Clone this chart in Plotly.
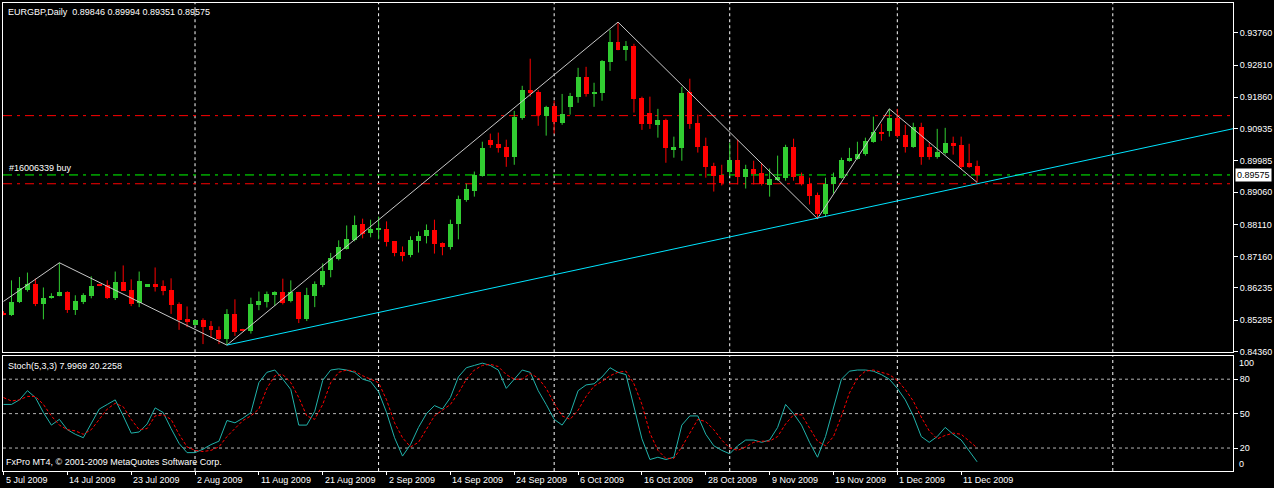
import plotly.graph_objects as go

# ---------------- data ----------------
opens = [0.8550,0.8543,0.8582,0.8619,0.8634,0.8576,0.8593,0.8600,0.8611,0.8558,
         0.8582,0.8600,0.8635,0.8631,0.8594,0.8640,0.8619,0.8579,0.8629,0.8634,
         0.8628,0.8619,0.8575,0.8531,0.8514,0.8528,0.8510,0.8500,0.8473,0.8546,
         0.8502,0.8497,0.8573,0.8581,0.8602,0.8613,0.8584,0.8611,0.8531,0.8599,
         0.8631,0.8678,0.8708,0.8740,0.8764,0.8811,0.8787,0.8797,0.8799,0.8761,
         0.8731,0.8720,0.8761,0.8776,0.8796,0.8755,0.8743,0.8811,0.8884,0.8911,
         0.8955,0.9061,0.9049,0.9040,0.9011,0.9126,0.9208,0.9202,0.9132,0.9161,
         0.9111,0.9158,0.9188,0.9246,0.9196,0.9199,0.9291,0.9350,0.9326,0.9338,
         0.9185,0.9141,0.9105,0.9120,0.9032,0.9037,0.9202,0.9111,0.9043,0.8984,
         0.8958,0.8967,0.9002,0.8952,0.8976,0.8964,0.8926,0.8943,0.8949,0.9040,
         0.8955,0.8929,0.8899,0.8843,0.8929,0.8949,0.8999,0.9005,0.9020,0.9053,
         0.9085,0.9088,0.9126,0.9076,0.9040,0.9099,0.9040,0.9011,0.9023,0.9052,
         0.9046,0.8993,0.89846]
highs = [0.8555,0.8646,0.8656,0.8669,0.8651,0.8625,0.8608,0.8698,0.8614,0.8602,
         0.8608,0.8658,0.8636,0.8646,0.8672,0.8690,0.8649,0.8672,0.8634,0.8684,
         0.8646,0.8652,0.8581,0.8569,0.8528,0.8534,0.8526,0.8510,0.8561,0.8590,
         0.8503,0.8595,0.8613,0.8613,0.8614,0.8651,0.8646,0.8612,0.8624,0.8643,
         0.8696,0.8727,0.8764,0.8808,0.8837,0.8828,0.8825,0.8834,0.8820,0.8762,
         0.8746,0.8776,0.8790,0.8811,0.8825,0.8758,0.8825,0.8896,0.8931,0.8967,
         0.9055,0.9079,0.9082,0.9061,0.9146,0.9220,0.9300,0.9208,0.9161,0.9176,
         0.9196,0.9199,0.9273,0.9276,0.9229,0.9296,0.9385,0.9408,0.9352,0.9344,
         0.9188,0.9188,0.9152,0.9123,0.9070,0.9217,0.9241,0.9135,0.9067,0.8993,
         0.8987,0.9052,0.9061,0.8987,0.8999,0.8993,0.8976,0.9014,0.9046,0.9064,
         0.8964,0.8949,0.8905,0.8949,0.8964,0.9008,0.9037,0.9055,0.9067,0.9129,
         0.9108,0.9152,0.9152,0.9105,0.9111,0.9111,0.9052,0.9093,0.9096,0.9070,
         0.9070,0.9049,0.89994]
lows = [0.8543,0.8541,0.8579,0.8613,0.8570,0.8531,0.8592,0.8599,0.8550,0.8544,
        0.8576,0.8593,0.8629,0.8591,0.8588,0.8615,0.8570,0.8567,0.8629,0.8613,
        0.8602,0.8547,0.8500,0.8508,0.8514,0.8458,0.8476,0.8458,0.8455,0.8482,
        0.8496,0.8489,0.8558,0.8566,0.8571,0.8575,0.8581,0.8520,0.8526,0.8567,
        0.8626,0.8655,0.8705,0.8737,0.8761,0.8770,0.8773,0.8767,0.8746,0.8717,
        0.8702,0.8714,0.8728,0.8755,0.8725,0.8720,0.8737,0.8767,0.8878,0.8893,
        0.8952,0.9037,0.9023,0.8981,0.8987,0.9120,0.9188,0.9102,0.9073,0.9079,
        0.9105,0.9135,0.9170,0.9188,0.9158,0.9176,0.9264,0.9325,0.9294,0.9141,
        0.9090,0.9093,0.9067,0.8993,0.9008,0.8999,0.9093,0.9023,0.8949,0.8908,
        0.8926,0.8955,0.8929,0.8917,0.8929,0.8926,0.8893,0.8940,0.8940,0.8940,
        0.8926,0.8870,0.8828,0.8834,0.8902,0.8946,0.8996,0.9002,0.9014,0.9052,
        0.9058,0.9070,0.9067,0.9023,0.9037,0.8987,0.9002,0.9005,0.9017,0.9017,
        0.8975,0.8978,0.89351]
closes = [0.8544,0.8582,0.8624,0.8634,0.8576,0.8593,0.8599,0.8611,0.8558,0.8584,
          0.8602,0.8628,0.8630,0.8594,0.8640,0.8616,0.8576,0.8643,0.8634,0.8629,
          0.8616,0.8573,0.8529,0.8523,0.8528,0.8508,0.8500,0.8473,0.8546,0.8494,
          0.8497,0.8575,0.8585,0.8605,0.8613,0.8578,0.8611,0.8531,0.8602,0.8634,
          0.8675,0.8711,0.8743,0.8767,0.8808,0.8784,0.8799,0.8799,0.8758,0.8728,
          0.8717,0.8764,0.8778,0.8796,0.8752,0.8743,0.8811,0.8887,0.8917,0.8958,
          0.9037,0.9046,0.9037,0.9011,0.9129,0.9208,0.9199,0.9135,0.9158,0.9114,
          0.9138,0.9191,0.9246,0.9196,0.9202,0.9294,0.9350,0.9326,0.9338,0.9182,
          0.9108,0.9108,0.9120,0.9037,0.9040,0.9199,0.9108,0.9040,0.8981,0.8955,
          0.8934,0.9002,0.8952,0.8976,0.8961,0.8931,0.8946,0.8952,0.9040,0.8952,
          0.8931,0.8896,0.8843,0.8931,0.8952,0.9002,0.9008,0.9020,0.9058,0.9085,
          0.9079,0.9126,0.9073,0.9040,0.9099,0.9011,0.9011,0.9026,0.9052,0.9043,
          0.8981,0.8981,0.89575]

stoch_main = [58,58,62,70,64,51,40,45,36,32,
              29,41,54,58,62,48,33,34,41,55,
              51,37,24,16,16,19,23,26,44,42,
              46,51,77,86,88,80,71,40,40,52,
              79,88,89,88,86,80,78,69,51,29,
              13,23,38,50,57,54,64,82,90,92,
              94,92,88,72,80,88,86,70,58,45,
              40,50,70,75,76,82,90,86,84,55,
              28,10,12,10,12,40,48,48,32,22,
              18,15,22,27,27,25,27,38,58,50,
              40,25,12,30,55,80,87,88,88,87,
              84,80,72,62,48,30,25,30,38,32,
              27,18,8.0]
stoch_signal = [64,61,62,65,65,58,48,40,36,35,
                32,36,45,54,59,56,45,36,37,48,
                49,45,32,21,18,17,18,21,30,37,
                44,48,54,72,83,84,77,64,48,45,
                58,77,86,88,87,83,80,77,62,42,
                29,21,25,37,48,53,58,68,80,88,
                92,93,91,84,80,80,85,81,72,59,
                48,45,53,65,74,78,83,86,87,76,
                58,33,18,11,11,21,33,45,43,36,
                27,20,18,21,25,26,26,30,41,49,
                49,38,26,22,30,48,68,81,87,88,
                86,84,79,71,61,47,35,28,31,33,
                32,26,20.2]

zz_idx = [0, 7, 28, 77, 102, 111, 122]
zz_price = [0.8584, 0.8698, 0.8455, 0.9408, 0.8828, 0.9152, 0.8935]

trend_idx = [28, 122]
trend_price = [0.8455, 0.8931]

order_price = 0.8957
tp_price = 0.9132
sl_price = 0.8931
bid_price = 0.89575

price_ticks = [0.93760, 0.92810, 0.91860, 0.90935, 0.89985, 0.89060,
               0.88110, 0.87160, 0.86235, 0.85285, 0.84360]
date_tick_idx = [0, 8, 16, 24, 32, 40, 48, 56, 64, 72, 80, 88, 96, 104, 112, 120]
date_labels = ["5 Jul 2009", "14 Jul 2009", "23 Jul 2009", "2 Aug 2009", "11 Aug 2009",
               "21 Aug 2009", "2 Sep 2009", "14 Sep 2009", "24 Sep 2009", "6 Oct 2009",
               "16 Oct 2009", "28 Oct 2009", "9 Nov 2009", "19 Nov 2009", "1 Dec 2009",
               "11 Dec 2009"]
grid_idx = [24, 47, 69, 91, 112, 139]

# ---------------- styling ----------------
FONT = "Liberation Sans"
FS = 9
GREEN = "#32CD32"
RED = "#FF0000"
X0 = -0.0625
X1 = X0 + 1233 / 8

n = len(opens)
idx = list(range(n))

fig = go.Figure()

# wicks
for col, up in ((GREEN, True), (RED, False)):
    wx, wy = [], []
    for i in idx:
        if (closes[i] >= opens[i]) == up:
            wx += [i, i, None]
            wy += [lows[i], highs[i], None]
    fig.add_trace(go.Scatter(x=wx, y=wy, mode="lines", line=dict(color=col, width=1),
                             hoverinfo="skip", showlegend=False, xaxis="x", yaxis="y"))

# bodies
base = [min(o, c) for o, c in zip(opens, closes)]
height = [max(abs(c - o), 0.00012) for o, c in zip(opens, closes)]
colors = [GREEN if c >= o else RED for o, c in zip(opens, closes)]
fig.add_trace(go.Bar(x=idx, y=height, base=base, width=0.625,
                     marker=dict(color=colors, line=dict(width=0)),
                     showlegend=False, xaxis="x", yaxis="y"))

# zigzag
fig.add_trace(go.Scatter(x=zz_idx, y=zz_price, mode="lines",
                         line=dict(color="#C8C8C8", width=1),
                         showlegend=False, xaxis="x", yaxis="y"))

# trend line (ray extended to right edge)
slope = (trend_price[1] - trend_price[0]) / (trend_idx[1] - trend_idx[0])
tx = [trend_idx[0], X1 + 1]
ty = [trend_price[0], trend_price[0] + slope * (X1 + 1 - trend_idx[0])]
fig.add_trace(go.Scatter(x=tx, y=ty, mode="lines", line=dict(color="#00E5FF", width=1),
                         showlegend=False, xaxis="x", yaxis="y"))

# stochastic
fig.add_trace(go.Scatter(x=idx, y=stoch_main, mode="lines",
                         line=dict(color="#20B2AA", width=1),
                         showlegend=False, xaxis="x2", yaxis="y2"))
fig.add_trace(go.Scatter(x=idx, y=stoch_signal, mode="lines",
                         line=dict(color=RED, width=1, dash="3px,2px"),
                         showlegend=False, xaxis="x2", yaxis="y2"))

shapes = []
for g in grid_idx:
    for xr, yr in (("x", "y domain"), ("x2", "y2 domain")):
        shapes.append(dict(type="line", xref=xr, yref=yr, x0=g, x1=g, y0=0, y1=1,
                           line=dict(color="#FFFFFF", width=1, dash="3px,3px"), layer="below"))
for lv in (20, 50, 80):
    shapes.append(dict(type="line", xref="x2 domain", yref="y2", x0=0, x1=1, y0=lv, y1=lv,
                       line=dict(color="#B4B4B4", width=1, dash="3px,3px"), layer="below"))
for p, c in ((tp_price, RED), (sl_price, RED), (order_price, "#00FF00")):
    shapes.append(dict(type="line", xref="x domain", yref="y", x0=0, x1=1, y0=p, y1=p,
                       line=dict(color=c, width=1, dash="9px,5px,3px,5px"), layer="below"))

annotations = [
    dict(text="EURGBP,Daily  0.89846 0.89994 0.89351 0.89575", xref="paper", yref="paper",
         x=0, y=1, xanchor="left", yanchor="top", xshift=3, yshift=-2, showarrow=False,
         font=dict(color="white", size=FS, family=FONT)),
    dict(text="#16006339 buy", xref="paper", yref="y", x=0, y=order_price,
         xanchor="left", yanchor="bottom", xshift=4, yshift=0, showarrow=False,
         font=dict(color="white", size=FS, family=FONT)),
    dict(text="Stoch(5,3,3) 7.9969 20.2258", xref="paper", yref="y2 domain", x=0, y=1,
         xanchor="left", yanchor="top", xshift=3, yshift=-3, showarrow=False,
         font=dict(color="white", size=FS, family=FONT)),
    dict(text="FxPro MT4, © 2001-2009 MetaQuotes Software Corp.", xref="paper", yref="y2 domain",
         x=0, y=0, xanchor="left", yanchor="bottom", xshift=1, yshift=2, showarrow=False,
         font=dict(color="white", size=FS, family=FONT)),
    dict(text="0.89575", xref="paper", yref="y", x=1, y=bid_price, xanchor="left",
         yanchor="middle", xshift=2, showarrow=False, bgcolor="white", borderpad=1,
         font=dict(color="black", size=FS, family=FONT)),
    dict(text="100", xref="paper", yref="y2 domain", x=1, y=1, xanchor="left", yanchor="top",
         xshift=4, yshift=0, showarrow=False, font=dict(color="white", size=FS, family=FONT)),
    dict(text="0", xref="paper", yref="y2 domain", x=1, y=0, xanchor="left", yanchor="bottom",
         xshift=4, yshift=0, showarrow=False, font=dict(color="white", size=FS, family=FONT)),
]
for ti, lab in zip(date_tick_idx, date_labels):
    annotations.append(dict(text=lab, xref="x2", yref="paper", x=ti, y=0, xanchor="left",
                            yanchor="top", xshift=0, yshift=-2, showarrow=False,
                            font=dict(color="white", size=FS, family=FONT)))

axis_common = dict(showgrid=False, zeroline=False, showline=True, linecolor="white",
                   linewidth=1, mirror=True)

fig.update_layout(
    width=1274, height=488,
    margin=dict(l=3, r=38, t=2, b=17),
    paper_bgcolor="black", plot_bgcolor="black",
    barmode="overlay", bargap=0,
    showlegend=False,
    hovermode=False,
    font=dict(family=FONT, size=FS, color="white"),
    xaxis=dict(domain=[0, 1], range=[X0, X1], showticklabels=False, ticks="",
               anchor="y", **axis_common),
    yaxis=dict(domain=[0.25373, 1], range=[0.84339, 0.94643], side="right",
               tickvals=price_ticks, ticktext=[f"{v:.5f}" for v in price_ticks],
               ticks="outside", ticklen=4, tickcolor="white",
               tickfont=dict(color="white", size=FS, family=FONT), anchor="x",
               **axis_common),
    xaxis2=dict(domain=[0, 1], range=[X0, X1], tickvals=date_tick_idx,
                ticktext=[""] * len(date_tick_idx), ticks="outside", ticklen=3,
                tickcolor="white", anchor="y2", matches="x", **axis_common),
    yaxis2=dict(domain=[0, 0.2452], range=[0, 100], side="right",
                tickvals=[20, 50, 80], ticktext=["20", "50", "80"],
                ticks="outside", ticklen=4, tickcolor="white",
                tickfont=dict(color="white", size=FS, family=FONT), anchor="x2",
                **axis_common),
    shapes=shapes,
    annotations=annotations,
)

fig.write_html("out.html", config={"displayModeBar": False},
               post_script="document.body.style.margin='0px';document.body.style.background='black';")
